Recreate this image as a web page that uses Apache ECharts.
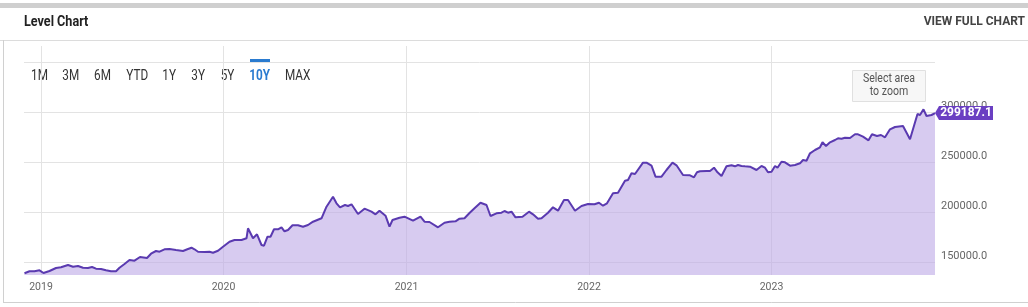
<!DOCTYPE html>
<html>
<head>
<meta charset="utf-8">
<script src="https://cdn.jsdelivr.net/npm/echarts@6/dist/echarts.min.js"></script>
<style>
html,body{margin:0;padding:0;background:#fff;}
#chart{width:1028px;height:307px;}
</style>
</head>
<body>
<div id="chart"></div>
<script>
// ---- data (date, level) ----
const y2019 = [
['2018-11-29',139000],['2018-12-09',141000],['2018-12-19',141000],['2018-12-29',142000],
['2019-01-06',139300],['2019-01-18',141300],['2019-01-31',144300],['2019-02-10',145000],
['2019-02-24',147300],['2019-03-06',145600],['2019-03-16',146300],['2019-03-26',144600],
['2019-04-05',144300],['2019-04-13',145300],['2019-04-21',143600],['2019-05-01',143300],
['2019-05-11',142000],['2019-05-21',141000],['2019-05-31',141000],['2019-06-07',144600],
['2019-06-17',148300],['2019-06-27',152300],['2019-07-07',151600],['2019-07-18',155300],
['2019-08-01',154300],['2019-08-09',158600],['2019-08-19',161300],['2019-08-26',160600],
['2019-09-05',163000],['2019-09-15',163300],['2019-09-28',162300],['2019-10-12',161300],
['2019-10-22',163300],['2019-10-29',164600],['2019-11-04',163000],['2019-11-11',160600],
['2019-11-24',160300],['2019-12-04',160600],['2019-12-11',159600],['2019-12-21',161600],
['2019-12-31',165600]
];
const y2020 = [
['2020-01-13',170600],['2020-01-23',172300],['2020-02-06',172300],['2020-02-16',174000],
['2020-02-19',184000],['2020-02-29',174000],['2020-03-08',178000],['2020-03-17',167300],
['2020-03-22',166600],['2020-03-29',175600],['2020-04-04',175600],['2020-04-11',183000],
['2020-04-19',183000],['2020-04-26',185000],['2020-05-02',181000],['2020-05-09',182300],
['2020-05-18',187000],['2020-05-29',187000],['2020-06-08',185600],['2020-06-18',187300],
['2020-06-28',190600],['2020-07-15',194000],['2020-07-25',205600],['2020-08-07',215600],
['2020-08-14',209000],['2020-08-21',205000],['2020-08-31',207300],['2020-09-06',206300],
['2020-09-13',208000],['2020-09-26',198300],['2020-10-09',203600],['2020-10-23',200600],
['2020-10-31',198000],['2020-11-08',201600],['2020-11-20',196600],['2020-11-28',185600],
['2020-12-04',192300],['2020-12-18',194600],['2020-12-28',195600]
];
const y2021 = [
['2021-01-14',191600],['2021-01-29',195600],['2021-02-06',190600],['2021-02-16',190300],
['2021-03-05',185000],['2021-03-18',189600],['2021-03-28',190600],['2021-04-09',191000],
['2021-04-17',193600],['2021-04-27',194000],['2021-05-07',199300],['2021-05-17',204000],
['2021-05-29',209600],['2021-06-10',207300],['2021-06-18',196300],['2021-06-30',199000],
['2021-07-10',199600],['2021-07-16',201300],['2021-07-23',199600],['2021-07-30',200600],
['2021-08-07',195000],['2021-08-21',195600],['2021-09-03',200600],['2021-09-11',198000],
['2021-09-21',193600],['2021-09-28',194000],['2021-10-11',199600],['2021-10-21',205000],
['2021-10-31',201600],['2021-11-12',212300],['2021-11-20',212300],['2021-12-04',201600],
['2021-12-17',206300],['2021-12-30',208300]
];
const y2022 = [
['2022-01-12',208000],['2022-01-21',209600],['2022-01-29',206600],['2022-02-06',209000],
['2022-02-18',219000],['2022-02-28',219600],['2022-03-14',231600],['2022-03-20',232300],
['2022-03-27',239000],['2022-04-03',238300],['2022-04-19',249600],['2022-04-26',249600],
['2022-05-06',246600],['2022-05-14',235600],['2022-05-26',235600],['2022-06-05',242300],
['2022-06-17',249600],['2022-06-25',247000],['2022-07-08',237300],['2022-07-22',237000],
['2022-07-30',235000],['2022-08-05',240000],['2022-08-11',241000],['2022-08-24',241300],
['2022-08-31',241300],['2022-09-08',244600],['2022-09-15',240000],['2022-09-23',236300],
['2022-10-03',246000],['2022-10-13',247000],['2022-10-20',246000],['2022-10-26',247300],
['2022-11-02',246300],['2022-11-09',246000],['2022-11-19',245600],['2022-12-02',242300],
['2022-12-12',246300],['2022-12-19',244600],['2022-12-25',240000]
];
const y2023 = [
['2023-01-01',240600],['2023-01-08',246300],['2023-01-13',244600],['2023-01-21',250600],
['2023-01-28',250000],['2023-02-07',246600],['2023-02-17',247300],['2023-02-27',249000],
['2023-03-05',252300],['2023-03-12',251600],['2023-03-19',259000],['2023-03-29',262300],
['2023-04-08',265000],['2023-04-13',270000],['2023-04-20',266300],['2023-04-28',270000],
['2023-05-08',272300],['2023-05-14',274000],['2023-05-21',273600],['2023-05-28',274600],
['2023-06-07',274300],['2023-06-17',278000],['2023-06-23',278000],['2023-07-03',275600],
['2023-07-14',272000],['2023-07-21',278000],['2023-07-31',276300],['2023-08-08',277300],
['2023-08-16',275000],['2023-08-26',283000],['2023-09-05',285300],['2023-09-21',286300],
['2023-10-05',273000],['2023-10-20',298300],['2023-10-25',297300],['2023-11-01',303000],
['2023-11-07',296300],['2023-11-17',297300],['2023-11-24',299187.1]
];
const yearTicks = ['2019-01-01','2020-01-01','2021-01-01','2022-01-01','2023-01-01'];
const levelTicks = [150000, 200000, 250000, 300000];
const levelGrid = [150000, 200000, 250000, 300000, 350000];
const rangeButtons = ['1M','3M','6M','YTD','1Y','3Y','5Y','10Y','MAX'];
const selectedRange = '10Y';
const xMin = '2018-11-28', xMax = '2023-11-24';
const yMin = 137300, yMax = 366300;

const series = [].concat(y2019, y2020, y2021, y2022, y2023);
const last = series[series.length - 1];

// pick a condensed face if one is installed, otherwise Roboto with compact sizes
function hasFont(name) {
  const c = document.createElement('canvas').getContext('2d');
  c.font = '20px monospace';
  const a = c.measureText('150000.0 Level Chart').width;
  c.font = "20px '" + name + "', monospace";
  return Math.abs(c.measureText('150000.0 Level Chart').width - a) > 0.5;
}
const narrowOK = hasFont('Liberation Sans Narrow');
const FONT = narrowOK ? "'Liberation Sans Narrow', Roboto, sans-serif" : "Roboto, 'Liberation Sans', sans-serif";
const SX = narrowOK ? 1 : 0.84;            // horizontal squeeze for free-standing texts
const yLabSize = narrowOK ? 12 : 11;
const xLabSize = narrowOK ? 11 : 10.5;
const tagSize = narrowOK ? 13 : 12;

function txt(x, y, s, font, fill, align, sx) {
  return { type: 'text', x: x, y: y, scaleX: sx == null ? SX : sx, originX: 0, originY: 0,
    style: { text: s, font: font, fill: fill, align: align || 'left', verticalAlign: 'middle' } };
}

const btnX = [39.5, 70.8, 102.5, 137.2, 169.2, 198.2, 227.5, 259.7, 297.7];
const btnGraphics = rangeButtons.map((b, i) =>
  txt(btnX[i], 76, b, (b === selectedRange ? 'bold ' : '') + '14px ' + FONT,
      b === selectedRange ? '#2a7bd0' : '#333', 'center'));

const chart = echarts.init(document.getElementById('chart'), null, { renderer: 'canvas' });
chart.setOption({
  animation: false,
  backgroundColor: '#fff',
  grid: { left: 24, right: 93, top: 46, bottom: 32, containLabel: false },
  xAxis: {
    type: 'time', min: xMin, max: xMax,
    axisLine: { show: false },
    axisTick: { show: false, customValues: yearTicks },
    splitLine: { show: true, customValues: yearTicks, lineStyle: { color: '#e3e3e3', width: 1 } },
    axisLabel: { customValues: yearTicks, formatter: '{yyyy}', color: '#666', fontSize: xLabSize,
      fontFamily: FONT, margin: 7, hideOverlap: false }
  },
  yAxis: {
    type: 'value', position: 'right', min: yMin, max: yMax,
    axisLine: { show: false },
    axisTick: { show: false, customValues: levelGrid },
    splitLine: { show: true, customValues: levelGrid, lineStyle: { color: '#e3e3e3', width: 1 } },
    axisLabel: { customValues: levelTicks, formatter: v => v.toFixed(1), color: '#666',
      fontSize: yLabSize, fontFamily: FONT, margin: 6, verticalAlign: 'bottom', lineHeight: 12 }
  },
  series: [{
    type: 'line', data: series, showSymbol: false, symbol: 'none',
    lineStyle: { color: '#5a3ab0', width: 2 },
    areaStyle: { color: 'rgba(188,168,230,0.6)', opacity: 1, origin: 'start' },
    z: 2,
    markPoint: {
      silent: true,
      symbol: 'path://M0,7 L4,0 L58,0 L58,14 L4,14 Z',
      symbolSize: [58, 14],
      symbolOffset: ['50%', 0],
      itemStyle: { color: '#6a3fc2' },
      label: { show: true, position: 'inside', offset: [2, 0], color: '#fff',
        fontWeight: 'bold', fontSize: tagSize, fontFamily: FONT,
        formatter: p => p.value.toFixed(1) },
      data: [{ coord: last, value: last[1] }]
    }
  }],
  graphic: [
    { type: 'rect', shape: { x: 0, y: 3, width: 1028, height: 5 }, style: { fill: '#cfcfcf' } },
    txt(24, 22, 'Level Chart', 'bold 14px ' + FONT, '#222', 'left', narrowOK ? 1 : 0.9),
    { type: 'text', x: 1025, y: 22, style: { text: 'VIEW FULL CHART', font: 'bold 12px ' + FONT, fill: '#444', align: 'right', verticalAlign: 'middle' } },
    { type: 'line', shape: { x1: 0, y1: 40.5, x2: 1028, y2: 40.5 }, style: { stroke: '#dcdcdc', lineWidth: 1 } },
    { type: 'line', shape: { x1: 3.5, y1: 40, x2: 3.5, y2: 303 }, style: { stroke: '#d0d0d0', lineWidth: 1 } },
    { type: 'line', shape: { x1: 3, y1: 302.5, x2: 1028, y2: 302.5 }, style: { stroke: '#d0d0d0', lineWidth: 1 } },
    { type: 'rect', shape: { x: 250, y: 59, width: 20, height: 3 }, style: { fill: '#2a7bd0' } },
    { type: 'rect', shape: { x: 852.5, y: 70.5, width: 73, height: 31 }, style: { fill: '#f7f7f7', stroke: '#e0e0e0', lineWidth: 1 } },
    txt(889, 79, 'Select area', '12px ' + FONT, '#555', 'center', narrowOK ? 1 : 0.88),
    txt(889, 91.5, 'to zoom', '12px ' + FONT, '#555', 'center', narrowOK ? 1 : 0.88)
  ].concat(btnGraphics)
});
</script>
</body>
</html>
